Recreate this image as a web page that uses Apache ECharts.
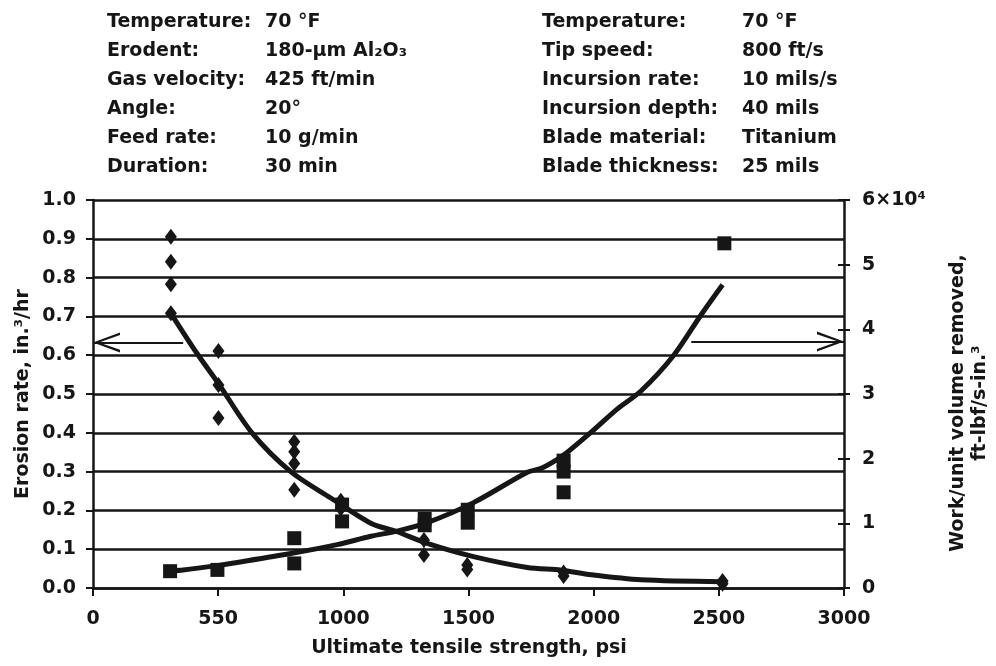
<!DOCTYPE html>
<html>
<head>
<meta charset="utf-8">
<script src="https://cdn.jsdelivr.net/npm/echarts@6/dist/echarts.min.js"></script>
<style>
html,body{margin:0;padding:0;background:#fff;}
#chart{width:996px;height:666px;}
</style>
</head>
<body>
<div id="chart"></div>
<script>
// ---- data ----
const xTickLabels = ['0', '550', '1000', '1500', '2000', '2500', '3000'];
const leftTickLabels = ['0.0','0.1','0.2','0.3','0.4','0.5','0.6','0.7','0.8','0.9','1.0'];
const rightTickLabels = ['0','1','2','3','4','5','6×10⁴'];

// erosion rate measurements (in.^3/hr), left axis
const erosionPoints = [
  [311,0.905],[311,0.841],[311,0.783],[311,0.708],
  [501,0.611],[501,0.523],[501,0.438],
  [804,0.377],[804,0.351],[804,0.321],[804,0.253],
  [990,0.225],[990,0.205],
  [1322,0.124],[1322,0.085],
  [1495,0.059],[1495,0.048],
  [1880,0.040],[1880,0.031],
  [2515,0.018],[2515,0.011]
];
// erosion fitted curve
const erosionCurve = [
  [311,0.708],[415,0.605],[500,0.528],[635,0.400],[790,0.300],[950,0.232],
  [1110,0.167],[1215,0.145],[1335,0.115],[1520,0.081],[1735,0.053],
  [1870,0.046],[1990,0.034],[2190,0.021],[2515,0.016]
];
// work per unit volume measurements (x10^4 ft-lbf/s-in.^3), right axis
const workPoints = [
  [308,0.26],[497,0.28],
  [804,0.77],[804,0.38],
  [995,1.29],[995,1.03],
  [1325,1.07],[1325,0.97],
  [1497,1.21],[1497,1.01],
  [1880,1.97],[1880,1.80],[1880,1.48],
  [2522,5.33]
];
// work fitted curve
const workCurve = [
  [310,0.27],[360,0.28],[500,0.35],[600,0.41],[800,0.54],[975,0.67],
  [1110,0.80],[1215,0.88],[1335,1.01],[1520,1.32],[1735,1.79],[1790,1.85],
  [1855,1.99],[1895,2.10],[1990,2.41],[2095,2.77],[2190,3.05],[2320,3.60],
  [2430,4.23],[2515,4.69]
];
// arrows indicating which axis each curve uses
const leftArrow = [[360,0.633],[0,0.633]];
const rightArrow = [[2390,0.635],[3000,0.635]];

// header conditions
const leftLabels = ['Temperature:','Erodent:','Gas velocity:','Angle:','Feed rate:','Duration:'];
const leftValues = ['70 °F','180-µm Al₂O₃','425 ft/min','20°','10 g/min','30 min'];
const rightLabels = ['Temperature:','Tip speed:','Incursion rate:','Incursion depth:','Blade material:','Blade thickness:'];
const rightValues = ['70 °F','800 ft/s','10 mils/s','40 mils','Titanium','25 mils'];

// ---- chart ----
const FONT = '"DejaVu Sans", sans-serif';
const INK = '#161616';
const chart = echarts.init(document.getElementById('chart'), null, {renderer:'canvas'});

const txtStyle = {fontFamily: FONT, fontSize: 19, fontWeight: 'bold', fill: INK};
const graphics = [];
const rowY = [22, 51, 80, 109, 138, 167];
for (let i = 0; i < leftLabels.length; i++) {
  graphics.push({type:'text', x:107, y:rowY[i], style:Object.assign({text:leftLabels[i], verticalAlign:'middle'}, txtStyle)});
  graphics.push({type:'text', x:265, y:rowY[i], style:Object.assign({text:leftValues[i], verticalAlign:'middle'}, txtStyle)});
  graphics.push({type:'text', x:542, y:rowY[i], style:Object.assign({text:rightLabels[i], verticalAlign:'middle'}, txtStyle)});
  graphics.push({type:'text', x:742, y:rowY[i], style:Object.assign({text:rightValues[i], verticalAlign:'middle'}, txtStyle)});
}
graphics.push({type:'text', x:23, y:394, rotation:Math.PI/2,
  style:Object.assign({text:'Erosion rate, in.³/hr', align:'center', verticalAlign:'middle'}, txtStyle)});
graphics.push({type:'text', x:969, y:403, rotation:Math.PI/2,
  style:Object.assign({text:'Work/unit volume removed,\nft-lbf/s-in.³', align:'center', verticalAlign:'middle', lineHeight:22}, txtStyle)});
graphics.push({type:'text', x:469, y:648,
  style:Object.assign({text:'Ultimate tensile strength, psi', align:'center', verticalAlign:'middle'}, txtStyle)});

const labelStyle = {fontFamily: FONT, fontSize: 19, fontWeight: 'bold', color: INK};
const headLeft = 'path://M0,10 L27,0 L27,2.6 L6,10 L27,17.4 L27,20 Z';
const headRight = 'path://M27,10 L0,0 L0,2.6 L21,10 L0,17.4 L0,20 Z';

chart.setOption({
  animation: false,
  backgroundColor: '#fff',
  grid: {left:93, right:152, top:200, bottom:78, containLabel:false},
  graphic: graphics,
  xAxis: {
    type:'value', min:0, max:3000, interval:500,
    axisLine:{show:true, onZero:false, lineStyle:{color:INK, width:2.5}},
    axisTick:{show:true, length:8, lineStyle:{color:INK, width:2}},
    axisLabel:Object.assign({margin:22, formatter:(v)=>xTickLabels[Math.round(v/500)]}, labelStyle),
    splitLine:{show:false}
  },
  yAxis: [
    {
      type:'value', min:0, max:1, interval:0.1, position:'left',
      axisLine:{show:true, lineStyle:{color:INK, width:2.5}},
      axisTick:{show:true, length:7, lineStyle:{color:INK, width:2}},
      axisLabel:Object.assign({margin:17, formatter:(v)=>leftTickLabels[Math.round(v*10)]}, labelStyle),
      splitLine:{show:true, lineStyle:{color:INK, width:2.5}}
    },
    {
      type:'value', min:0, max:6, interval:1, position:'right',
      axisLine:{show:true, lineStyle:{color:INK, width:2.5}},
      axisTick:{show:true, length:6, lineStyle:{color:INK, width:2}},
      axisLabel:Object.assign({margin:18, formatter:(v)=>rightTickLabels[Math.round(v)]}, labelStyle),
      splitLine:{show:false}
    },
    {
      type:'value', min:0, max:6, interval:1, position:'right',
      axisLine:{show:false},
      axisTick:{show:true, inside:true, length:6, lineStyle:{color:INK, width:2}},
      axisLabel:{show:false},
      splitLine:{show:false}
    }
  ],
  series: [
    {
      type:'line', yAxisIndex:0, data:erosionCurve, symbol:'none', smooth:0.3,
      lineStyle:{color:INK, width:5}, z:3,
      markLine:{
        silent:true, symbol:['none','none'],
        lineStyle:{color:INK, width:2, type:'solid'}, label:{show:false},
        data:[
          [{coord:leftArrow[0]},{coord:leftArrow[1]}],
          [{coord:rightArrow[0]},{coord:rightArrow[1]}]
        ]
      },
      markPoint:{
        silent:true, label:{show:false}, itemStyle:{color:INK},
        data:[
          {coord:leftArrow[1], symbol:headLeft, symbolSize:[27,20], symbolOffset:[13.5,0]},
          {coord:rightArrow[1], symbol:headRight, symbolSize:[27,20], symbolOffset:[-13.5,0]}
        ]
      }
    },
    {
      type:'line', yAxisIndex:1, data:workCurve, symbol:'none', smooth:0.3,
      lineStyle:{color:INK, width:5}, z:3
    },
    {
      type:'scatter', yAxisIndex:0, data:erosionPoints, symbol:'diamond', symbolSize:[12,16],
      itemStyle:{color:INK, opacity:1}, z:4
    },
    {
      type:'scatter', yAxisIndex:1, data:workPoints, symbol:'rect', symbolSize:14,
      itemStyle:{color:INK, opacity:1}, z:4
    }
  ]
});
</script>
</body>
</html>
